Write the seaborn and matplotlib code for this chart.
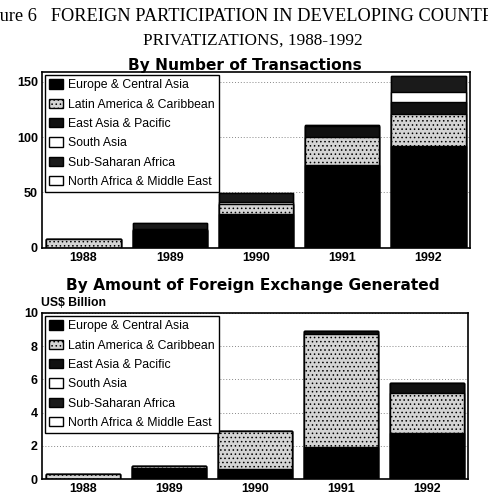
import numpy as np
import pandas as pd
import matplotlib
matplotlib.use("Agg")
import matplotlib.pyplot as plt
from matplotlib.patches import Patch
import seaborn as sns

# ======================
# data
# ======================
years = ["1988", "1989", "1990", "1991", "1992"]
regions = ["Europe & Central Asia", "Latin America & Caribbean", "East Asia & Pacific",
           "South Asia", "Sub-Saharan Africa", "North Africa & Middle East"]

# number of transactions
n_europe = [0, 16, 30, 75, 92]
n_latin = [8, 0, 9, 25, 29]
n_eastasia = [0, 0, 0, 10, 11]
n_southasia = [0, 1, 2, 0, 9]
n_ssa = [0, 5, 8, 1, 14]
n_name = [0, 0, 0, 0, 0]

# US$ billion
v_europe = [0.0, 0.65, 0.6, 1.95, 2.75]
v_latin = [0.3, 0.15, 2.3, 6.75, 2.45]
v_eastasia = [0.0, 0.0, 0.0, 0.2, 0.6]
v_southasia = [0.0, 0.0, 0.0, 0.0, 0.0]
v_ssa = [0.0, 0.0, 0.0, 0.0, 0.0]
v_name = [0.0, 0.0, 0.0, 0.0, 0.0]

colors = ["black", "#d4d4d4", "#111111", "white", "#1a1a1a", "white"]
hatches = ["", "....", "", "", "", ""]

sns.set_theme(style="white")
plt.rcParams["font.family"] = ["Liberation Sans", "DejaVu Sans"]
plt.rcParams["hatch.color"] = "#777777"
plt.rcParams["hatch.linewidth"] = 0.6
for k in ["text.color", "axes.labelcolor", "xtick.color", "ytick.color"]:
    plt.rcParams[k] = "black"


def stacked(ax, layers):
    df = pd.DataFrame(dict(zip(regions, layers)), index=years)
    cum = df.cumsum(axis=1)
    # draw tallest cumulative layer first so lower layers sit on top of it
    for i in range(len(regions) - 1, -1, -1):
        before = len(ax.patches)
        sns.barplot(x=years, y=cum[regions[i]].values, color=colors[i], ax=ax,
                    width=0.86, edgecolor="black", linewidth=1.0, saturation=1)
        for p in ax.patches[before:]:
            p.set_hatch(hatches[i])
    handles = [Patch(facecolor=colors[i], edgecolor="black", hatch=hatches[i],
                     linewidth=1.0, label=regions[i]) for i in range(len(regions))]
    leg = ax.legend(handles=handles, loc="upper left", fontsize=8.8, frameon=True,
                    fancybox=False, edgecolor="black", framealpha=1,
                    handlelength=1.1, handleheight=0.8, handletextpad=0.4,
                    labelspacing=0.6, borderaxespad=0.25, borderpad=0.35)
    leg.get_frame().set_linewidth(1.0)
    ax.set_xlim(-0.48, 4.48)
    ax.set_xlabel("")
    ax.set_ylabel("")
    ax.yaxis.grid(True, linestyle=(0, (1, 2)), color="#888888", linewidth=0.7)
    ax.set_axisbelow(True)
    for s in ax.spines.values():
        s.set_color("black")
        s.set_linewidth(1.2)
    ax.tick_params(axis="both", labelsize=9, length=0, pad=3, colors="black")


fig = plt.figure(figsize=(4.89, 4.99), dpi=100)

ax1 = fig.add_axes([0.086, 0.504, 0.875, 0.352])
stacked(ax1, [n_europe, n_latin, n_eastasia, n_southasia, n_ssa, n_name])
ax1.set_ylim(0, 159)
ax1.set_yticks([0, 50, 100, 150])

ax2 = fig.add_axes([0.086, 0.040, 0.871, 0.333])
stacked(ax2, [v_europe, v_latin, v_eastasia, v_southasia, v_ssa, v_name])
ax2.set_ylim(0, 10)
ax2.set_yticks([0, 2, 4, 6, 8, 10])
for ax in (ax1, ax2):
    for t in ax.get_xticklabels() + ax.get_yticklabels():
        t.set_fontweight("bold")

serif = ["Liberation Serif", "DejaVu Serif"]
fig.text(-0.052, 0.966, "Figure 6   FOREIGN PARTICIPATION IN DEVELOPING COUNTRY",
         family=serif, fontsize=13.2, ha="left", va="center")
fig.text(0.517, 0.918, "PRIVATIZATIONS, 1988-1992", family=serif, fontsize=12.4,
         ha="center", va="center")
fig.text(0.50, 0.869, "By Number of Transactions", fontsize=11.1, fontweight="heavy",
         family=["DejaVu Sans"], ha="center", va="center")
fig.text(0.517, 0.427, "By Amount of Foreign Exchange Generated", fontsize=11.1,
         fontweight="heavy", family=["DejaVu Sans"], ha="center", va="center")
fig.text(0.084, 0.393, "US$ Billion", fontsize=8.8, fontweight="bold",
         ha="left", va="center")

fig.savefig("out.png", dpi=100)
